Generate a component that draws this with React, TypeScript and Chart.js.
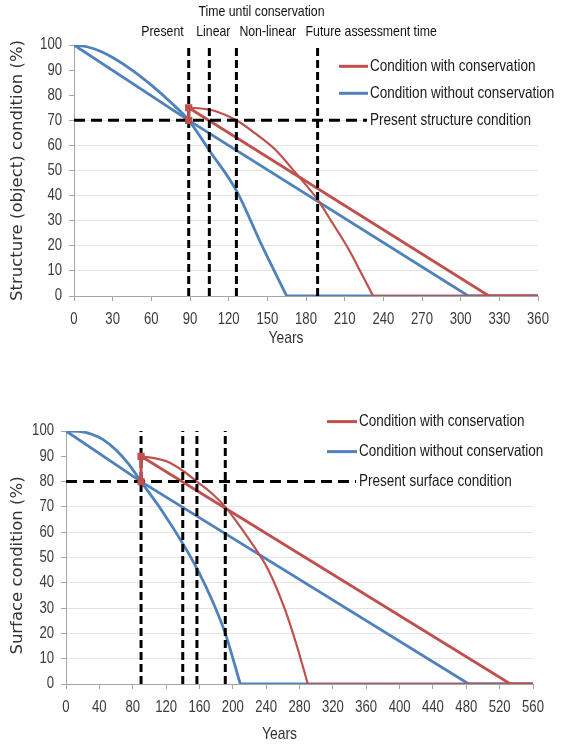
import React, { useEffect, useRef } from "react";
import { Chart, registerables } from "chart.js";

Chart.register(...registerables);

// ---------- colours & fonts ----------
const RED = "#C0504D";
const BLUE = "#4F81BD";
const SANS = "'Liberation Sans', Arial, sans-serif";
const WIDE = "'DejaVu Sans', Verdana, sans-serif";
const CONDENSE = 0.82;

// ---------- shared labels ----------
const xTitle = "Years";
const legendWith = "Condition with conservation";
const legendWithout = "Condition without conservation";
const annotTitle = "Time until conservation";
const annotLabels = ["Present", "Linear", "Non-linear", "Future assessment time"];

// ---------- top panel: structure (object) ----------
const structYTitle = "Structure (object) condition (%)";
const structPresentLabel = "Present structure condition";
const structXMax = 360;
const structXStep = 30;
const structPresentValue = 70;
const structTimeLines = [89, 105, 126, 189];
const structJumpX = [89, 89];
const structJumpY = [70, 75];
const structWithLinX = [89, 322, 360];
const structWithLinY = [75, 0, 0];
const structWithNonX = [89, 100, 110, 126, 140, 157, 172, 189, 200, 212, 222, 232];
const structWithNonY = [75, 74.6, 73.6, 70, 65, 57.9, 49, 38.4, 29.5, 19.6, 10, 0];
const structWithoutLinX = [0, 89, 306, 360];
const structWithoutLinY = [100, 70, 0, 0];
const structWithoutNonX = [0, 10, 20, 30, 45, 60, 75, 89, 105, 126, 145, 165];
const structWithoutNonY = [100, 99.3, 97.6, 95, 90, 84, 77.2, 70, 58, 42, 21, 0];

// ---------- bottom panel: surface ----------
const surfYTitle = "Surface condition (%)";
const surfPresentLabel = "Present surface condition";
const surfXMax = 560;
const surfXStep = 40;
const surfPresentValue = 80;
const surfTimeLines = [90, 140, 157, 191];
const surfJumpX = [90, 90];
const surfJumpY = [80, 90];
const surfWithLinX = [90, 533, 560];
const surfWithLinY = [90, 0, 0];
const surfWithNonX = [90, 106, 122, 140, 157, 175, 191, 206, 222, 242, 262, 276, 290];
const surfWithNonY = [90, 89.3, 87.8, 84.3, 80, 75.3, 70, 63.5, 56, 45.5, 30, 16, 0];
const surfWithoutLinX = [0, 90, 483, 560];
const surfWithoutLinY = [100, 80, 0, 0];
const surfWithoutNonX = [0, 15, 30, 45, 60, 75, 90, 115, 141, 158, 176, 191, 209];
const surfWithoutNonY = [100, 99.9, 98.8, 96.5, 92.5, 87, 80, 68.5, 55, 45, 32.5, 20, 0];

type Pt = { x: number; y: number };
const pts = (xs: number[], ys: number[]): Pt[] => xs.map((x, i) => ({ x, y: ys[i] }));

function cText(
  ctx: CanvasRenderingContext2D,
  text: string,
  x: number,
  y: number,
  align: CanvasTextAlign,
  size: number,
  color: string,
  sx: number = CONDENSE
) {
  ctx.save();
  ctx.font = `${size}px ${SANS}`;
  ctx.fillStyle = color;
  ctx.textAlign = align;
  ctx.textBaseline = "middle";
  ctx.translate(x, y);
  ctx.scale(sx, 1);
  ctx.fillText(text, 0, 0);
  ctx.restore();
}

const overlayPlugin = {
  id: "overlay",
  afterDraw(chart: any, _args: any, o: any) {
    const { ctx, chartArea } = chart;
    const xs = chart.scales.x;
    const ys = chart.scales.y;
    const px = (v: number) => xs.getPixelForValue(v);

    // tick labels (condensed)
    xs.ticks.forEach((t: any) => {
      cText(ctx, String(t.value), px(t.value), chartArea.bottom + 24, "center", 16, "#3a3a3a");
    });
    ys.ticks.forEach((t: any) => {
      cText(ctx, String(t.value), chartArea.left - 12, ys.getPixelForValue(t.value), "right", 16, "#3a3a3a");
    });

    // y title
    ctx.save();
    ctx.translate(o.yTitleX, (chartArea.top + chartArea.bottom) / 2 + o.yTitleShift);
    ctx.rotate(-Math.PI / 2);
    ctx.font = `16.5px ${WIDE}`;
    ctx.fillStyle = "#333";
    ctx.textAlign = "center";
    ctx.textBaseline = "middle";
    ctx.fillText(o.yTitle, 0, 0);
    ctx.restore();

    // x title
    cText(ctx, xTitle, (chartArea.left + chartArea.right) / 2 - 20, chartArea.bottom + o.xTitleGap, "center", 17, "#333");

    // legend
    const lastY = ys.getPixelForValue(o.presentValue);
    const rowY = [lastY - 2 * o.rowGap, lastY - o.rowGap, lastY];
    ctx.save();
    ctx.fillStyle = "#fff";
    ctx.fillRect(o.textX - 3, rowY[0] - o.rowGap / 2, chart.width, o.rowGap * 3);
    const colors = [RED, BLUE];
    for (let i = 0; i < 2; i++) {
      ctx.strokeStyle = colors[i];
      ctx.lineWidth = 3;
      ctx.beginPath();
      ctx.moveTo(o.markerX, rowY[i]);
      ctx.lineTo(o.textX - 2, rowY[i]);
      ctx.stroke();
    }
    ctx.restore();
    o.legendTexts.forEach((t: string, i: number) => cText(ctx, t, o.textX, rowY[i], "left", 16.5, "#1a1a1a"));

    // annotations
    if (o.annotations) {
      const tl = o.timeLines;
      cText(ctx, annotTitle, (px(tl[1]) + px(tl[3])) / 2 - 2, 12, "center", 15, "#111");
      cText(ctx, annotLabels[0], px(tl[0]) - 5, 32, "right", 15, "#111");
      cText(ctx, annotLabels[1], px(tl[1]) + 4, 32, "center", 15, "#111");
      cText(ctx, annotLabels[2], px(tl[2]) + 3, 32, "left", 15, "#111");
      cText(ctx, annotLabels[3], px(tl[3]) - 12, 32, "left", 15, "#111");
    }
  },
};

interface Spec {
  xMax: number;
  xStep: number;
  yTitle: string;
  presentLabel: string;
  presentValue: number;
  timeLines: number[];
  jump: Pt[];
  withLin: Pt[];
  withNon: Pt[];
  withoutLin: Pt[];
  withoutNon: Pt[];
  height: number;
  padTop: number;
  padRight: number;
  axisW: number;
  plotBottom: number;
  markerX: number;
  textX: number;
  rowGap: number;
  annotations: boolean;
  yTitleShift: number;
  xTitleGap: number;
}

function makeConfig(s: Spec): any {
  const line = (label: string, data: Pt[], color: string, width: number, order: number, smooth: boolean) => ({
    label,
    data,
    borderColor: color,
    backgroundColor: color,
    borderWidth: width,
    pointRadius: 0,
    cubicInterpolationMode: smooth ? "monotone" : "default",
    tension: smooth ? 0.4 : 0,
    fill: false,
    order,
  });
  // flat zero tail after a curve reaches 0
  const tail = (curve: Pt[]): Pt[] => [
    { x: curve[curve.length - 1].x, y: 0 },
    { x: s.xMax, y: 0 },
  ];
  const dashed = (data: Pt[], dash: number[]) => ({
    label: "",
    data,
    borderColor: "#000",
    borderWidth: 3,
    borderDash: dash,
    pointRadius: 0,
    fill: false,
    order: 1,
  });
  const datasets: any[] = [
    line(legendWith, s.withLin, RED, 2.8, 2, false),
    line(legendWith, s.withNon, RED, 2.2, 2, true),
    line(legendWith, tail(s.withNon), RED, 2.2, 2, false),
    line(legendWithout, s.withoutLin, BLUE, 2.8, 3, false),
    line(legendWithout, s.withoutNon, BLUE, 2.8, 3, true),
    line(legendWithout, tail(s.withoutNon), BLUE, 2.8, 3, false),
    dashed(
      [
        { x: 0, y: s.presentValue },
        { x: s.xMax, y: s.presentValue },
      ],
      [11, 6]
    ),
    ...s.timeLines.map((t) =>
      dashed(
        [
          { x: t, y: 0 },
          { x: t, y: 100 },
        ],
        [8, 4]
      )
    ),
    {
      label: legendWith,
      data: s.jump,
      borderColor: RED,
      backgroundColor: RED,
      borderWidth: 3,
      pointRadius: 3,
      pointStyle: "rect",
      order: 0,
    },
  ];
  return {
    type: "line",
    data: { datasets },
    plugins: [overlayPlugin],
    options: {
      responsive: false,
      animation: false,
      events: [],
      layout: { padding: { top: s.padTop, right: s.padRight, bottom: 0, left: 0 } },
      plugins: {
        legend: { display: false },
        tooltip: { enabled: false },
        title: { display: false },
        overlay: {
          yTitle: s.yTitle,
          yTitleX: 18,
          yTitleShift: s.yTitleShift,
          xTitleGap: s.xTitleGap,
          presentValue: s.presentValue,
          markerX: s.markerX,
          textX: s.textX,
          rowGap: s.rowGap,
          legendTexts: [legendWith, legendWithout, s.presentLabel],
          annotations: s.annotations,
          timeLines: s.timeLines,
        },
      },
      scales: {
        x: {
          type: "linear",
          min: 0,
          max: s.xMax,
          afterFit: (sc: any) => {
            sc.height = s.height - s.plotBottom;
          },
          ticks: { stepSize: s.xStep, autoSkip: false, maxRotation: 0, display: false },
          grid: { drawOnChartArea: false, tickLength: 5, tickColor: "#a6a6a6" },
          border: { color: "#a6a6a6", width: 1 },
        },
        y: {
          min: 0,
          max: 100,
          afterFit: (sc: any) => {
            sc.width = s.axisW;
          },
          ticks: { stepSize: 10, display: false },
          grid: {
            color: (c: any) =>
              c.tick && c.tick.value > 0 && c.tick.value <= 70 ? "#e4e4e4" : "rgba(0,0,0,0)",
            tickLength: 5,
            tickColor: "#a6a6a6",
          },
          border: { color: "#a6a6a6", width: 1 },
        },
      },
    },
  };
}

function Panel({ spec, top }: { spec: Spec; top: number }) {
  const ref = useRef<HTMLCanvasElement | null>(null);
  useEffect(() => {
    if (!ref.current) return;
    const chart = new Chart(ref.current, makeConfig(spec));
    return () => chart.destroy();
  }, []);
  return (
    <canvas
      ref={ref}
      width={563}
      height={spec.height}
      style={{ position: "absolute", left: 0, top, width: 563, height: spec.height, display: "block" }}
    />
  );
}

const structSpec: Spec = {
  xMax: structXMax,
  xStep: structXStep,
  yTitle: structYTitle,
  presentLabel: structPresentLabel,
  presentValue: structPresentValue,
  timeLines: structTimeLines,
  jump: pts(structJumpX, structJumpY),
  withLin: pts(structWithLinX, structWithLinY),
  withNon: pts(structWithNonX, structWithNonY),
  withoutLin: pts(structWithoutLinX, structWithoutLinY),
  withoutNon: pts(structWithoutNonX, structWithoutNonY),
  height: 360,
  padTop: 45,
  padRight: 25,
  axisW: 74,
  plotBottom: 296,
  markerX: 339,
  textX: 370,
  rowGap: 27,
  annotations: true,
  yTitleShift: 0,
  xTitleGap: 42,
};

const surfSpec: Spec = {
  xMax: surfXMax,
  xStep: surfXStep,
  yTitle: surfYTitle,
  presentLabel: surfPresentLabel,
  presentValue: surfPresentValue,
  timeLines: surfTimeLines,
  jump: pts(surfJumpX, surfJumpY),
  withLin: pts(surfWithLinX, surfWithLinY),
  withNon: pts(surfWithNonX, surfWithNonY),
  withoutLin: pts(surfWithoutLinX, surfWithoutLinY),
  withoutNon: pts(surfWithoutNonX, surfWithoutNonY),
  height: 364,
  padTop: 51,
  padRight: 30,
  axisW: 66,
  plotBottom: 304,
  markerX: 327,
  textX: 359,
  rowGap: 30,
  annotations: false,
  yTitleShift: 8,
  xTitleGap: 50,
};

export default function App() {
  return (
    <div style={{ position: "absolute", left: 0, top: 0, width: 563, height: 744, background: "#fff" }}>
      <Panel spec={structSpec} top={0} />
      <Panel spec={surfSpec} top={380} />
    </div>
  );
}
